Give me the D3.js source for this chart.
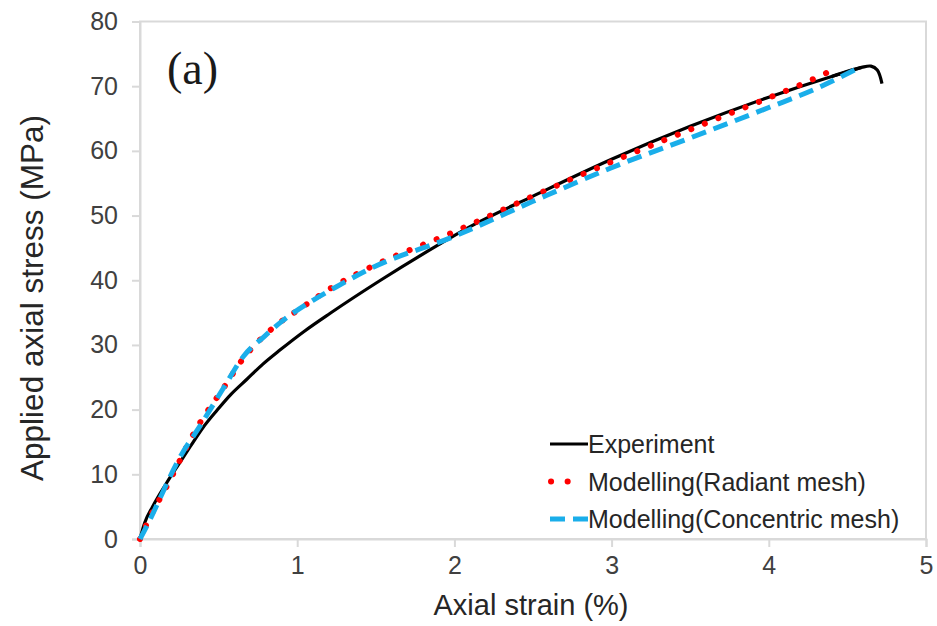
<!DOCTYPE html>
<html>
<head>
<meta charset="utf-8">
<script src="https://cdn.jsdelivr.net/npm/d3@7"></script>
<style>
  body { margin: 0; background: #fff; }
  svg { display: block; font-family: Arial, "Liberation Sans", sans-serif; }
</style>
</head>
<body>
<div id="chart"></div>
<script>
// strain (%) and stress (MPa)
const expStrain = [0, 0.03, 0.08, 0.17, 0.25, 0.32, 0.40, 0.49, 0.58, 0.68, 0.78, 0.89, 1.05, 1.21, 1.53, 1.9, 2.1, 2.5, 3.0, 3.5, 4.0, 4.4, 4.59, 4.65, 4.69, 4.72];
const expStress = [0, 2.5, 5.0, 8.7, 11.7, 14.3, 17.2, 19.9, 22.4, 24.7, 27.0, 29.2, 32.2, 34.9, 40.0, 45.5, 48.3, 53.0, 58.7, 63.8, 68.3, 71.5, 72.9, 73.1, 72.5, 70.4];

const radStrain = [0, 0.04, 0.18, 0.36, 0.53, 0.66, 0.78, 0.88, 1.0, 1.25, 1.465, 2.0, 2.5, 3.0, 3.5, 4.0, 4.2, 4.38];
const radStress = [0, 2.2, 8.6, 17.1, 23.3, 28.0, 31.2, 33.3, 35.3, 39.3, 42.0, 47.5, 53.0, 58.3, 63.3, 68.2, 70.2, 72.2];

const conStrain = [0, 0.02, 0.27, 0.38, 0.53, 0.66, 0.79, 0.9, 1.1, 1.25, 1.465, 2.0, 2.5, 3.0, 3.5, 4.0, 4.3, 4.57];
const conStress = [0, 0.9, 13.3, 17.4, 23.3, 28.3, 31.3, 33.6, 36.9, 39.0, 41.8, 46.8, 52.2, 57.4, 62.0, 66.7, 69.6, 72.8];

const xTicks = [0, 1, 2, 3, 4, 5];
const yTicks = [0, 10, 20, 30, 40, 50, 60, 70, 80];

const legendNames = ["Experiment", "Modelling(Radiant mesh)", "Modelling(Concentric mesh)"];

const width = 937, height = 626;
const margin = { top: 21.5, right: 11, bottom: 87, left: 140 };
const plotW = width - margin.left - margin.right;
const plotH = height - margin.top - margin.bottom;

const svg = d3.select("#chart").append("svg")
    .attr("width", width)
    .attr("height", height);

const g = svg.append("g")
    .attr("transform", `translate(${margin.left}, ${margin.top})`);

const x = d3.scaleLinear().domain([0, 5]).range([0, plotW]);
const y = d3.scaleLinear().domain([0, 80]).range([plotH, 0]);

// frame
g.append("rect")
    .attr("x", 0).attr("y", 0)
    .attr("width", plotW).attr("height", plotH)
    .attr("fill", "none")
    .attr("stroke", "#d9d9d9")
    .attr("stroke-width", 2);

// axes
const xAxis = g.append("g")
    .attr("transform", `translate(0, ${plotH})`)
    .call(d3.axisBottom(x).tickValues(xTicks).tickFormat(d3.format("d")).tickSize(8).tickPadding(9));

const yAxis = g.append("g")
    .call(d3.axisLeft(y).tickValues(yTicks).tickFormat(d3.format("d")).tickSize(8).tickPadding(14));

[xAxis, yAxis].forEach(function (ax) {
    ax.select(".domain").attr("stroke", "#d9d9d9").attr("stroke-width", 2);
    ax.selectAll(".tick line").attr("stroke", "#d9d9d9").attr("stroke-width", 2);
    ax.selectAll(".tick text")
        .attr("fill", "#404040")
        .style("font-size", "25px")
        .style("font-family", "Arial, 'Liberation Sans', sans-serif");
});

// curves
const line = d3.line()
    .x(d => x(d[0]))
    .y(d => y(d[1]))
    .curve(d3.curveMonotoneX);

const expData = d3.zip(expStrain, expStress);
const radData = d3.zip(radStrain, radStress);
const conData = d3.zip(conStrain, conStress);

const styles = [
    { color: "#000000", width: 3.2, dash: null, cap: "butt" },
    { color: "#ff0000", width: 6, dash: "0.1 14.5", cap: "round" },
    { color: "#1aaeea", width: 5, dash: "15 8", cap: "butt" }
];

g.append("path")
    .datum(expData.slice(0, 23))
    .attr("d", line)
    .attr("fill", "none")
    .attr("stroke", styles[0].color)
    .attr("stroke-width", styles[0].width);

// peak and drop-off bends back, so draw it with a plain curve
g.append("path")
    .datum(expData.slice(21))
    .attr("d", d3.line().x(d => x(d[0])).y(d => y(d[1])).curve(d3.curveCatmullRom))
    .attr("fill", "none")
    .attr("stroke", styles[0].color)
    .attr("stroke-width", styles[0].width);

g.append("path")
    .datum(radData)
    .attr("d", line)
    .attr("fill", "none")
    .attr("stroke", styles[1].color)
    .attr("stroke-width", styles[1].width)
    .attr("stroke-dasharray", styles[1].dash)
    .attr("stroke-linecap", styles[1].cap);

g.append("path")
    .datum(conData)
    .attr("d", line)
    .attr("fill", "none")
    .attr("stroke", styles[2].color)
    .attr("stroke-width", styles[2].width)
    .attr("stroke-dasharray", styles[2].dash)
    .attr("stroke-linecap", styles[2].cap);

// legend
const legend = svg.append("g")
    .attr("transform", "translate(550, 444)");

legendNames.forEach(function (name, i) {
    const row = legend.append("g").attr("transform", `translate(0, ${i * 37.5})`);
    const s = styles[i];
    const seg = row.append("line")
        .attr("x1", i === 1 ? 1 : 0).attr("x2", i === 1 ? 34 : 38)
        .attr("y1", 0).attr("y2", 0)
        .attr("stroke", s.color)
        .attr("stroke-width", s.width)
        .attr("stroke-linecap", s.cap);
    if (i === 1) seg.attr("stroke-dasharray", "0.1 16.5");
    if (i === 2) seg.attr("stroke-dasharray", "15 8");
    row.append("text")
        .attr("x", 38)
        .attr("y", 9)
        .attr("fill", "#262626")
        .style("font-size", "25px")
        .text(name);
});

// panel label
svg.append("text")
    .attr("x", 167)
    .attr("y", 84)
    .style("font-family", "'Liberation Serif', 'Times New Roman', serif")
    .style("font-size", "46px")
    .attr("fill", "#1a1a1a")
    .text("(a)");

// axis titles
svg.append("text")
    .attr("x", margin.left + plotW / 2 - 2)
    .attr("y", 615)
    .attr("text-anchor", "middle")
    .attr("fill", "#262626")
    .style("font-size", "29px")
    .text("Axial strain (%)");

svg.append("text")
    .attr("transform", "translate(43, 298) rotate(-90)")
    .attr("text-anchor", "middle")
    .attr("fill", "#262626")
    .style("font-size", "31.5px")
    .text("Applied axial stress (MPa)");
</script>
</body>
</html>
